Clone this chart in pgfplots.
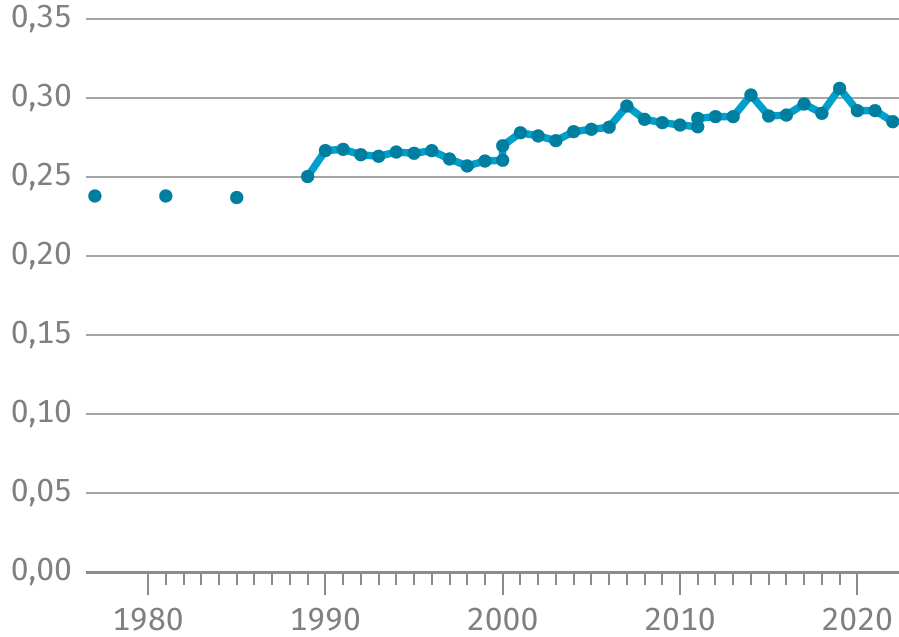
\documentclass[border=0pt]{standalone}
\usepackage{fontspec}
\setmainfont{Fira Sans}[Numbers=Monospaced]
\usepackage{pgfplots}
\pgfplotsset{compat=1.18}
\definecolor{linec}{RGB}{0,160,204}
\definecolor{markc}{RGB}{0,126,160}
\definecolor{txtc}{RGB}{128,128,128}
\definecolor{gridc}{RGB}{165,165,165}
\definecolor{axc}{RGB}{140,140,140}
\begin{document}
\begin{tikzpicture}
\useasboundingbox (-43bp,-32.5bp) rectangle (406.5bp,286bp);
\fontsize{16}{19}\selectfont
\begin{axis}[
  at={(0,0)}, anchor=south west,
  scale only axis, width=406.5bp, height=276.5bp,
  xmin=1976.5, xmax=2022.35, ymin=0, ymax=0.35,
  clip=false,
  axis x line*=bottom, axis y line*=left,
  y axis line style={draw=none},
  x axis line style={draw=axc, line width=1.5bp, -},
  ytick={0,0.05,...,0.36},
  ytick style={draw=none},
  ymajorgrids, grid style={draw=gridc, line width=0.8bp},
  xtick={1980,1990,2000,2010,2020},
  xticklabels={1980,1990,2000,2010,2020},
  minor x tick num=9,
  xtick align=outside, ytick align=inside,
  major tick length=11.5bp, minor tick length=6.5bp,
  xtick style={draw=axc, line width=1bp},
  minor x tick style={draw=axc, line width=1bp},
  ticklabel style={font=\fontsize{16}{19}\selectfont, text=txtc},
  yticklabel style={xshift=-1.5bp},
  xticklabel style={yshift=-1bp},
  /pgf/number format/.cd, use comma, fixed, fixed zerofill, precision=2, assume math mode=true,
]
\addplot[only marks, mark=*, mark size=3.25bp, mark options={fill=markc, draw=markc, line width=0.1bp}]
 coordinates {(1977,0.238) (1981,0.238) (1985,0.237)};
\addplot[linec, line width=3.7bp, line join=round, mark=*, mark size=3.25bp, mark options={fill=markc, draw=markc, line width=0.1bp}]
 coordinates {
 (1989,0.2503) (1990,0.2667) (1991,0.2675) (1992,0.2641) (1993,0.2631)
 (1994,0.2658) (1995,0.2650) (1996,0.2667) (1997,0.2614) (1998,0.2570)
 (1999,0.2601) (2000,0.2606) (2000,0.2698) (2001,0.2780) (2002,0.2760)
 (2003,0.2730) (2004,0.2787) (2005,0.2802) (2006,0.2815) (2007,0.2949)
 (2008,0.2865) (2009,0.2844) (2010,0.2829) (2011,0.2818) (2011,0.2871)
 (2012,0.2882) (2013,0.2882) (2014,0.3019) (2015,0.2886) (2016,0.2892)
 (2017,0.2962) (2018,0.2903) (2019,0.3061) (2020,0.2920) (2021,0.2920)
 (2022,0.2850)};
\end{axis}
\end{tikzpicture}
\end{document}
